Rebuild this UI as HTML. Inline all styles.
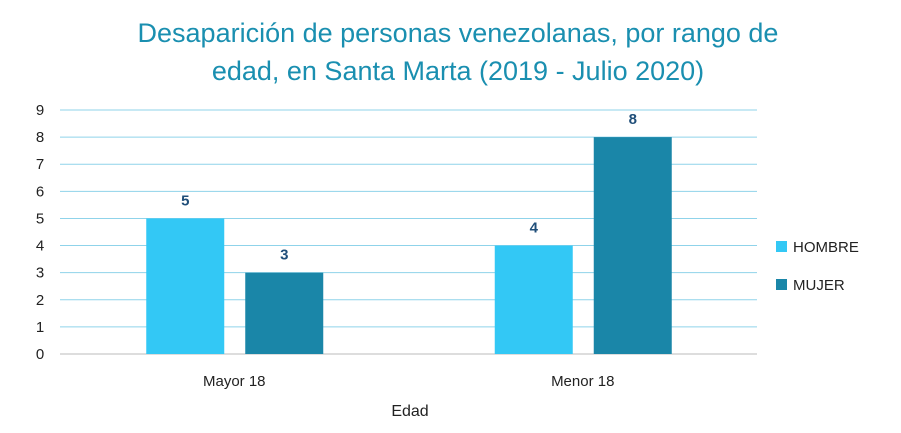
<!DOCTYPE html>
<html><head><meta charset="utf-8">
<style>
body{margin:0;background:#fff;font-family:"Liberation Sans",sans-serif;}
svg text{font-family:"Liberation Sans",sans-serif;}
</style></head>
<body>
<svg id="chart" width="901" height="428" viewBox="0 0 901 428">
<text x="458" y="42" text-anchor="middle" font-size="27" fill="#1a8fb0">Desaparición de personas venezolanas, por rango de</text>
<text x="458" y="80" text-anchor="middle" font-size="27" fill="#1a8fb0">edad, en Santa Marta (2019 - Julio 2020)</text>
<g id="grid"></g><g id="bars"></g><g id="labels"></g>
<text x="410" y="416" text-anchor="middle" font-size="16" fill="#222">Edad</text>
<rect x="776" y="241" width="11" height="11" fill="#33c8f5"/>
<text x="793" y="252" font-size="15" fill="#222">HOMBRE</text>
<rect x="776" y="279" width="11" height="11" fill="#1a86a8"/>
<text x="793" y="290" font-size="15" fill="#222">MUJER</text>
</svg>
<script>
const categories=["Mayor 18","Menor 18"];
const hombre=[5,4];
const mujer=[3,8];
const yTicks=[0,1,2,3,4,5,6,7,8,9];
const NS="http://www.w3.org/2000/svg";
const x0=60,x1=757,y0=354,yTop=110,yMax=9;
const y=v=>y0-(y0-yTop)*v/yMax;
const bw=(x1-x0)/categories.length;
const cx=i=>x0+bw*(i+0.5);
function mk(t,a,p){const e=document.createElementNS(NS,t);for(const k in a)e.setAttribute(k,a[k]);document.getElementById(p).appendChild(e);return e;}
yTicks.forEach(t=>{
 const l=mk("line",{x1:x0,x2:x1,y1:y(t),y2:y(t),stroke:t===0?"#bbb":"#8fd3ea","stroke-width":1},"grid");
 
 
 const tx=mk("text",{x:40,y:y(t)+5,"text-anchor":"middle","font-size":15,fill:"#222"},"grid");
 tx.textContent=t;
 
 
});
const series=[{d:hombre,c:"#33c8f5",off:-49,n:"hombre"},{d:mujer,c:"#1a86a8",off:50,n:"mujer"}];
categories.forEach((c,i)=>{
 series.forEach(s=>{
  const v=s.d[i],xc=cx(i)+s.off;
  const r=mk("rect",{x:xc-39,y:y(v),width:78,height:y0-y(v),fill:s.c},"bars");
  
  
  const t=mk("text",{x:xc,y:y(v)-13,"text-anchor":"middle","font-size":15,"font-weight":"bold",fill:"#1f4e79"},"labels");
  t.textContent=v;
  
  
 });
 const t=mk("text",{x:cx(i),y:386,"text-anchor":"middle","font-size":15,fill:"#222"},"labels");
 t.textContent=c;
 
 
});
</script>
</body></html>
